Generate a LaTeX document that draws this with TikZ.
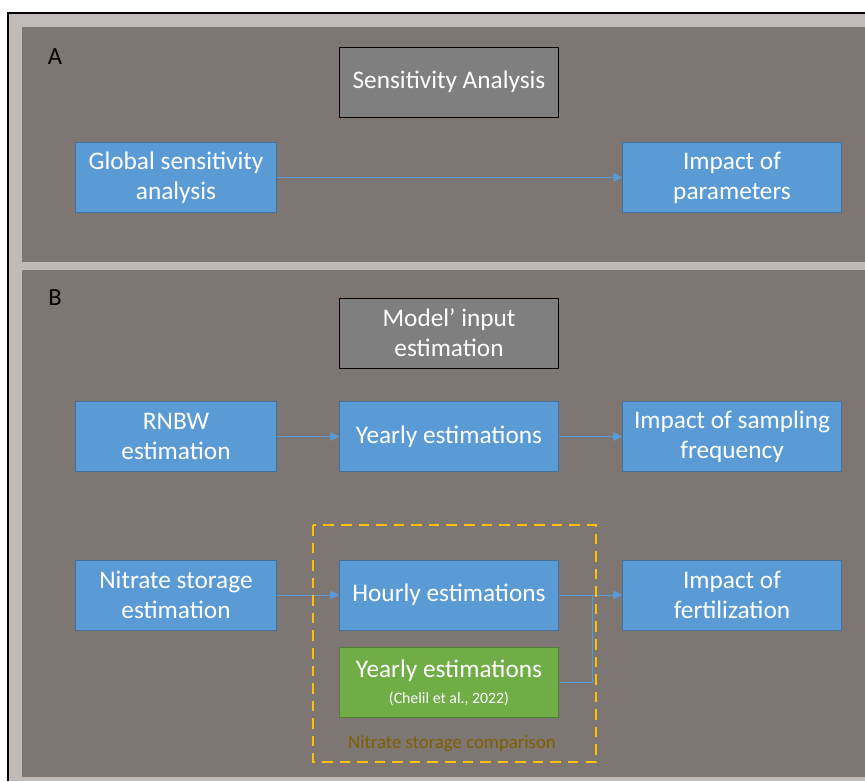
\documentclass[tikz,border=0pt]{standalone}
\usepackage{fontspec}
\setmainfont{Carlito}
\usetikzlibrary{arrows.meta}

\definecolor{frameGrey}{HTML}{C0BAB9}
\definecolor{panelGrey}{HTML}{7E7673}
\definecolor{boxBlue}{HTML}{5B9BD5}
\definecolor{edgeBlue}{HTML}{41719C}
\definecolor{boxGreen}{HTML}{70AD47}
\definecolor{edgeGreen}{HTML}{507E32}
\definecolor{titleGrey}{HTML}{7F7F7F}
\definecolor{dashYellow}{HTML}{FFC000}
\definecolor{labelBrown}{HTML}{7F6000}

\tikzset{
  block/.style={minimum width=4.02cm, minimum height=1.4cm, inner sep=1pt,
    align=center, text=white, font=\fontsize{14.4}{17}\selectfont, line width=0.5pt},
  wideblock/.style={minimum width=4.38cm},
  blueblock/.style={block, fill=boxBlue, draw=edgeBlue},
  greenblock/.style={block, wideblock, fill=boxGreen, draw=edgeGreen},
  titleblock/.style={block, wideblock, fill=titleGrey, draw=black},
  link/.style={draw=boxBlue, line width=0.5pt, -{Triangle[length=5pt, width=5pt]}}
}

\begin{document}
\begin{tikzpicture}[x=0.02cm, y=-0.02cm]

    \useasboundingbox (0,0) rectangle (865,781);

    % Frame and panels
    \fill[frameGrey] (8,13) rectangle (865,781);
    \draw[black, line width=0.8pt] (8,781) -- (8,13) -- (865,13);
    \fill[panelGrey] (22,27) rectangle (865,262);
    \fill[panelGrey] (22,270) rectangle (865,777);

    \node[font=\fontsize{14}{16}\selectfont] (lblA) at (55,57) {A};
    \node[font=\fontsize{14}{16}\selectfont] (lblB) at (55,298) {B};

    % Panel A
    \node[titleblock] (sens) at (449,82) {Sensitivity Analysis};
    \node[blueblock] (gsa) at (176,177.5) {Global sensitivity\\analysis};
    \node[blueblock, wideblock] (param) at (732,177.5) {Impact of\\parameters};
    \draw[link] (gsa) -- (param);

    % Panel B
    \node[titleblock] (input) at (449,333) {Model’ input\\estimation};

    \node[blueblock] (rnbw) at (176,436.5) {RNBW\\estimation};
    \node[blueblock, wideblock] (yearly) at (449,436.5) {Yearly estimations};
    \node[blueblock, wideblock] (sampling) at (732,436.5) {Impact of sampling\\frequency};

    \node[blueblock] (storage) at (176,595) {Nitrate storage\\estimation};
    \node[blueblock, wideblock] (hourly) at (449,595) {Hourly estimations};
    \node[blueblock, wideblock] (fert) at (732,595) {Impact of\\fertilization};
    \node[greenblock] (chelil) at (449,682.5)
      {Yearly estimations\\[-2pt]{\fontsize{9}{10}\selectfont (Chelil et al., 2022)}};

    \draw[link] (rnbw) -- (yearly);
    \draw[link] (yearly) -- (sampling);
    \draw[link] (storage) -- (hourly);
    \draw[link] (hourly) -- (fert);
    \coordinate (join) at (592,595);
    \draw[draw=boxBlue, line width=0.5pt] (chelil.east) -| (join);

    % Comparison box
    \draw[dashYellow, line width=1.2pt, dash pattern=on 6pt off 4pt] (313,525) rectangle (596,762);
    \node[text=labelBrown, font=\fontsize{10.7}{12}\selectfont] (cmp) at (452,744) {Nitrate storage comparison};

\end{tikzpicture}
\end{document}
